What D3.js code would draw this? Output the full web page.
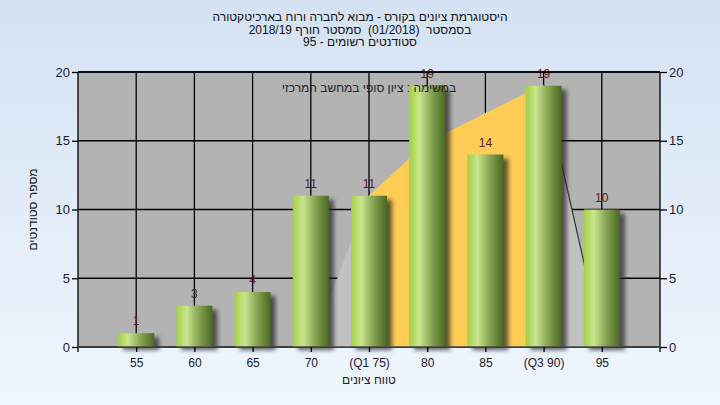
<!DOCTYPE html>
<html><head><meta charset="utf-8">
<script src="https://cdn.jsdelivr.net/npm/d3@7"></script>
<style>
html,body{margin:0;padding:0;}
svg{display:block;font-family:"Liberation Sans",Arial,sans-serif;}
</style></head>
<body>
<svg id="chart" width="720" height="405"></svg>
<script>
// ---- data ----
const categories = [55, 60, 65, 70, 75, 80, 85, 90, 95];
const tickLabels = ["55", "60", "65", "70", "(Q1 75)", "80", "85", "(Q3 90)", "95"];
const counts = [1, 3, 4, 11, 11, 19, 14, 19, 10];
const curveX = [70, 75, 80, 85, 90, 95];
const curveY = [0, 11, 14.9, 17.0, 19.1, 0.4];
const q1 = 75, q3 = 90;
const yTicks = [0, 5, 10, 15, 20];
const titleLines = [
  "היסטוגרמת ציונים בקורס - מבוא לחברה ורוח בארכיטקטורה",
  "בסמסטר  (01/2018)  סמסטר חורף 2018/19",
  "סטודנטים רשומים - 95"
];
const noteText = "במשימה : ציון סופי במחשב המרכזי";
const xTitle = "טווח ציונים";
const yTitle = "מספר סטודנטים";

// ---- layout ----
const W = 720, H = 405;
const L = 78, R = 660, T = 72, B = 347;
const svg = d3.select("#chart");
const defs = svg.append("defs");

const bg = defs.append("linearGradient").attr("id","bg").attr("x1",0).attr("y1",0).attr("x2",0).attr("y2",1);
bg.append("stop").attr("offset","0%").attr("stop-color","#d5e2f3");
bg.append("stop").attr("offset","100%").attr("stop-color","#eff6fd");

const bar = defs.append("linearGradient").attr("id","bar").attr("x1",0).attr("y1",0).attr("x2",1).attr("y2",0);
bar.append("stop").attr("offset","0%").attr("stop-color","#a2d044");
bar.append("stop").attr("offset","28%").attr("stop-color","#cbe58f");
bar.append("stop").attr("offset","60%").attr("stop-color","#8aa856");
bar.append("stop").attr("offset","100%").attr("stop-color","#4b6820");

const blur = defs.append("filter").attr("id","blur").attr("x","-50%").attr("y","-50%").attr("width","200%").attr("height","200%");
blur.append("feGaussianBlur").attr("stdDeviation", 2.2);

defs.append("clipPath").attr("id","iqr").append("rect")
  .attr("x", 0).attr("y", 0).attr("width", 1).attr("height", 1);

svg.append("rect").attr("width",W).attr("height",H).attr("fill","url(#bg)");

const x = d3.scaleLinear().domain([50, 100]).range([L, R]);
const y = d3.scaleLinear().domain([0, 20]).range([B, T]);

// plot background
svg.append("rect").attr("x",L).attr("y",T).attr("width",R-L).attr("height",B-T).attr("fill","#b3b3b3");

// gridlines
const grid = svg.append("g").attr("stroke","#000").attr("stroke-width",1.3);
yTicks.forEach(v => grid.append("line").attr("x1",L).attr("x2",R).attr("y1",y(v)).attr("y2",y(v)));
categories.forEach(c => grid.append("line").attr("x1",x(c)).attr("x2",x(c)).attr("y1",T).attr("y2",B));

// curve area
const pts = curveX.map((c,i)=>[c, curveY[i]]);
const area = d3.area().x(d=>x(d[0])).y0(y(0)).y1(d=>y(d[1]));
svg.append("path").datum(pts).attr("d", area).attr("fill","#c1c1c1");
d3.select("#iqr rect").attr("x", x(q1)).attr("width", x(q3)-x(q1)).attr("y", T).attr("height", B-T);
svg.append("path").datum(pts).attr("d", area).attr("fill","#ffcc55").attr("clip-path","url(#iqr)");
svg.append("path").datum(pts.slice(-2)).attr("d", d3.line().x(d=>x(d[0])).y(d=>y(d[1])))
  .attr("fill","none").attr("stroke","#333").attr("stroke-width",1.2);

// bars
const bw = 36;
svg.append("g").selectAll("rect").data(counts).join("rect")
  .attr("x",(d,i)=>x(categories[i]) - bw/2 + 5).attr("y",d=>y(d)+4)
  .attr("width",bw).attr("height",d=>B - y(d) - 1)
  .attr("fill","#2a2a2a").attr("opacity",0.75).attr("filter","url(#blur)");
svg.append("g").selectAll("rect").data(counts).join("rect")
  .attr("x",(d,i)=>x(categories[i]) - bw/2).attr("y",d=>y(d))
  .attr("width",bw).attr("height",d=>B - y(d))
  .attr("fill","url(#bar)");

// value labels
svg.append("g").selectAll("text").data(counts).join("text")
  .attr("x",(d,i)=>x(categories[i])).attr("y",d=>y(d)-8)
  .attr("text-anchor","middle").attr("font-size",12).attr("fill","#5a1c1c")
  .text(d=>d);

// note
svg.append("text").attr("x",(L+R)/2).attr("y",91.5).attr("text-anchor","middle")
  .attr("direction","rtl").attr("font-size",12).attr("fill","#222").text(noteText);

// plot border lines
const ax = svg.append("g").attr("stroke","#000").attr("stroke-width",1.3);
ax.append("line").attr("x1",L).attr("x2",R).attr("y1",T).attr("y2",T);
ax.append("line").attr("x1",L).attr("x2",L).attr("y1",T).attr("y2",B+5);
ax.append("line").attr("x1",R).attr("x2",R).attr("y1",T).attr("y2",B+5);
ax.append("line").attr("x1",L).attr("x2",R).attr("y1",B).attr("y2",B).attr("stroke","#444");

// axes
const fmt = d3.format("d");
const leftAxis = d3.axisLeft(y).tickValues(yTicks).tickFormat(fmt).tickSize(6).tickPadding(2);
const rightAxis = d3.axisRight(y).tickValues(yTicks).tickFormat(fmt).tickSize(7).tickPadding(2);
const bottomAxis = d3.axisBottom(x).tickValues(categories).tickFormat((d,i)=>tickLabels[i]).tickSize(5).tickPadding(6);
function style(g){
  g.select(".domain").remove();
  g.selectAll(".tick line").attr("stroke","#000").attr("stroke-width",1.3);
  g.selectAll(".tick text").attr("fill","#1a1a2e").attr("font-size",13)
   .attr("font-family",'"Liberation Sans",Arial,sans-serif');
}
svg.append("g").attr("transform",`translate(${L},0)`).call(leftAxis).call(style);
svg.append("g").attr("transform",`translate(${R},0)`).call(rightAxis).call(style);
svg.append("g").attr("transform",`translate(0,${B})`).call(bottomAxis).call(style)
  .selectAll(".tick text").attr("font-size",12);

// titles
svg.append("g").selectAll("text").data(titleLines).join("text")
  .attr("x",360).attr("y",(d,i)=>21 + i*12.7).attr("text-anchor","middle")
  .attr("direction","rtl").attr("font-size",12).attr("fill","#111")
  .style("white-space","pre").text(d=>d);

svg.append("text").attr("x",(L+R)/2).attr("y",384).attr("text-anchor","middle")
  .attr("direction","rtl").attr("font-size",12).attr("fill","#222").text(xTitle);
svg.append("text").attr("transform",`translate(37,${(T+B)/2}) rotate(-90)`).attr("text-anchor","middle")
  .attr("direction","rtl").attr("font-size",12).attr("fill","#222").text(yTitle);
</script>
</body></html>
